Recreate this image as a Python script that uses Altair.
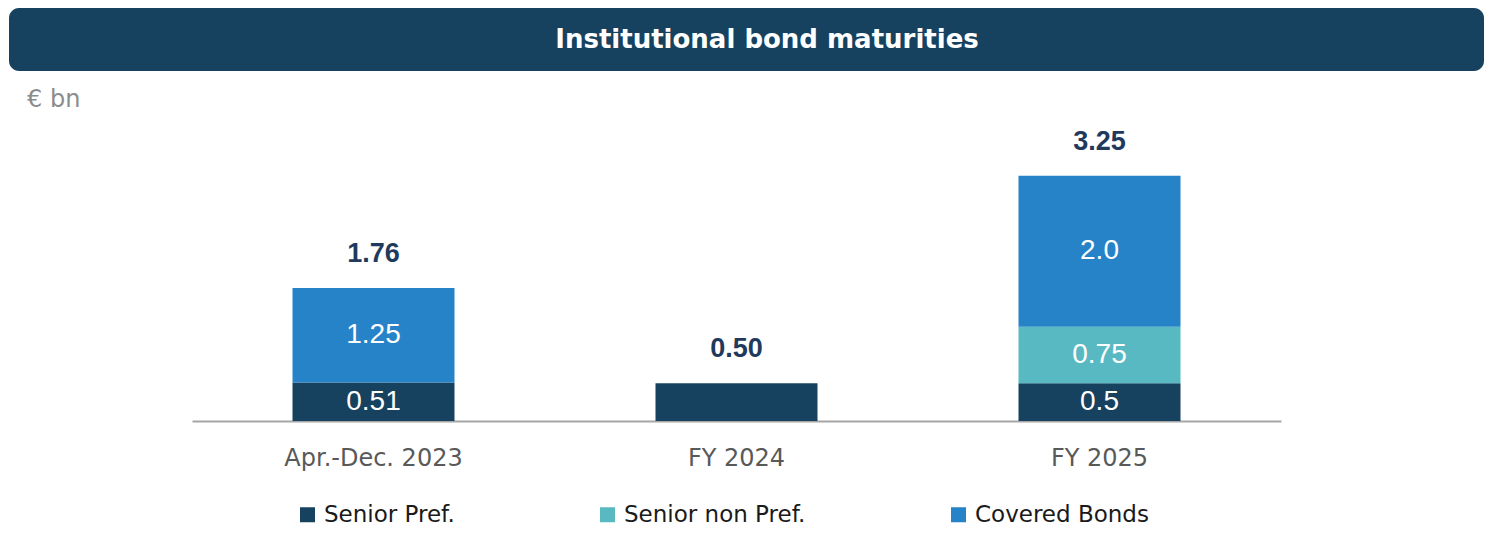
import altair as alt
import pandas as pd

categories = ["Apr.-Dec. 2023", "FY 2024", "FY 2025"]
series = ["Senior Pref.", "Senior non Pref.", "Covered Bonds"]
senior_pref = [0.51, 0.50, 0.5]
senior_non_pref = [0.0, 0.0, 0.75]
covered_bonds = [1.25, 0.0, 2.0]
senior_pref_labels = ["0.51", "", "0.5"]
senior_non_pref_labels = ["", "", "0.75"]
covered_bonds_labels = ["1.25", "", "2.0"]
totals = [1.76, 0.50, 3.25]
total_labels = ["1.76", "0.50", "3.25"]
colors = ["#16425f", "#58b9c2", "#2783c8"]

rows = []
for s_i, (s, vals, labs) in enumerate(zip(
        series,
        [senior_pref, senior_non_pref, covered_bonds],
        [senior_pref_labels, senior_non_pref_labels, covered_bonds_labels])):
    for c, v, l in zip(categories, vals, labs):
        rows.append({"category": c, "series": s, "order": s_i, "value": v, "label": l})
df = pd.DataFrame(rows)
tot_df = pd.DataFrame({"category": categories, "total": totals, "label": total_labels})

x_enc = alt.X("category:N", sort=categories,
              scale=alt.Scale(paddingInner=0, paddingOuter=0),
              axis=alt.Axis(title=None, labelAngle=0, ticks=False, labelPadding=25,
                            labelFont="DejaVu Sans", labelFontSize=24, labelColor="#595959",
                            domainColor="#a6a6a6", domainWidth=2))
y_scale = alt.Scale(domain=[0, 4], nice=False)

bars = alt.Chart(df).mark_bar(size=162).encode(
    x=x_enc,
    y=alt.Y("value:Q", stack="zero", scale=y_scale, axis=None),
    color=alt.Color("series:N", sort=series,
                    scale=alt.Scale(domain=series, range=colors),
                    legend=alt.Legend(title=None, orient="none", direction="horizontal",
                                      legendX=104, legendY=384, symbolType="square",
                                      symbolSize=225, symbolStrokeWidth=0, labelOffset=5,
                                      columnPadding=141, labelFont="DejaVu Sans",
                                      labelFontSize=23, labelColor="#1a1a1a", padding=0,
                                      labelLimit=400)),
    order=alt.Order("order:Q", sort="ascending"),
)

inner = alt.Chart(df).transform_stack(
    stack="value", groupby=["category"], as_=["y0", "y1"],
    sort=[alt.SortField("order", order="ascending")]
).transform_calculate(
    mid="(datum.y0 + datum.y1) / 2"
).transform_filter("datum.label != ''").mark_text(
    font="Liberation Sans", fontSize=28, color="white", baseline="middle"
).encode(
    x=alt.X("category:N", sort=categories),
    y=alt.Y("mid:Q", scale=y_scale),
    text="label:N",
)

tot = alt.Chart(tot_df).mark_text(
    font="Liberation Sans", fontSize=27, fontWeight="bold", color="#1f3a5c",
    baseline="middle", dy=-34
).encode(
    x=alt.X("category:N", sort=categories),
    y=alt.Y("total:Q", scale=y_scale),
    text="label:N",
)

dummy = pd.DataFrame({"t": ["Institutional bond maturities"], "u": ["€ bn"]})
banner = alt.Chart(dummy).mark_rect(color="#16425f", cornerRadius=10).encode(
    x=alt.value(-183), x2=alt.value(1292), y=alt.value(-111), y2=alt.value(-48)
)
title = alt.Chart(dummy).mark_text(
    font="DejaVu Sans", fontSize=26, fontWeight="bold", color="white",
    align="center", baseline="middle"
).encode(x=alt.value(575), y=alt.value(-79), text="t:N")
unit = alt.Chart(dummy).mark_text(
    font="DejaVu Sans", fontSize=24, color="#8c8c8c", align="left", baseline="middle"
).encode(x=alt.value(-165), y=alt.value(-19), text="u:N")

chart = alt.layer(banner, title, unit, bars, inner, tot).properties(
    width=1089, height=302,
    autosize=alt.AutoSizeParams(type="none"),
    padding={"left": 184, "top": 111, "right": 203, "bottom": 106},
).configure_view(stroke=None)

chart.save("out.html", embed_options={"renderer": "svg", "actions": False})
